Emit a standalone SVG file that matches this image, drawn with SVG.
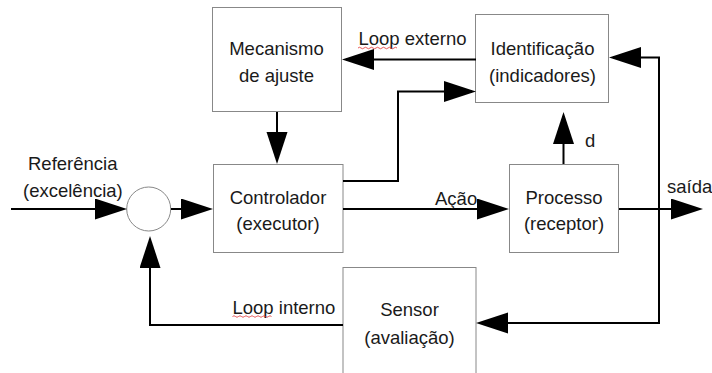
<svg xmlns="http://www.w3.org/2000/svg" width="712" height="373" viewBox="0 0 712 373">
<defs>
<style>
.box{fill:#fff;stroke:#888;stroke-width:1}
.t{font-family:"Liberation Sans",Arial,sans-serif;font-size:18.5px;fill:#1a1a1a}
.c{text-anchor:middle}
.ln{fill:none;stroke:#000;stroke-width:2}
.sq{fill:none;stroke:#e03030;stroke-width:0.8}
</style>
<marker id="ah" markerUnits="userSpaceOnUse" markerWidth="34" markerHeight="24" refX="28" refY="10.5" orient="auto" viewBox="0 0 34 24">
<path d="M0,0 L32,10.5 L0,21 z" fill="#000"/>
</marker>
</defs>
<rect width="712" height="373" fill="#fff"/>

<g id="mecanismo">
<rect class="box" x="212.5" y="7.5" width="129" height="104"/>
<text class="t c" x="276.5" y="55">Mecanismo</text>
<text class="t c" x="276.5" y="81.5">de ajuste</text>
</g>

<g id="identificacao">
<rect class="box" x="475.5" y="14.5" width="133" height="88"/>
<text class="t c" x="542.5" y="55">Identificação</text>
<text class="t c" x="542.5" y="81.5">(indicadores)</text>
</g>

<g id="somador">
<circle cx="148.7" cy="209" r="22" fill="#fff" stroke="#888" stroke-width="1"/>
</g>

<g id="controlador">
<rect class="box" x="213.5" y="164.5" width="129.5" height="88"/>
<text class="t c" x="278" y="204">Controlador</text>
<text class="t c" x="278" y="230">(executor)</text>
</g>

<g id="processo">
<rect class="box" x="509.5" y="164.5" width="109" height="88"/>
<text class="t c" x="564" y="204">Processo</text>
<text class="t c" x="564" y="230">(receptor)</text>
</g>

<g id="sensor">
<rect class="box" x="343" y="267.5" width="133" height="120"/>
<text class="t c" x="409.5" y="316">Sensor</text>
<text class="t c" x="409.5" y="344">(avaliação)</text>
</g>

<g id="connectors">
<path class="ln" d="M11,209 H123" marker-end="url(#ah)"/>
<path class="ln" d="M171,209 H209" marker-end="url(#ah)"/>
<path class="ln" d="M277,112 V160" marker-end="url(#ah)"/>
<path class="ln" d="M343,181 H398 V91.5 H472" marker-end="url(#ah)"/>
<path class="ln" d="M343,209 H505" marker-end="url(#ah)"/>
<path class="ln" d="M619,209 H699" marker-end="url(#ah)"/>
<path class="ln" d="M659,209 V57.5 H613" marker-end="url(#ah)"/>
<path class="ln" d="M659,209 V323 H480" marker-end="url(#ah)"/>
<path class="ln" d="M476,59.5 H346" marker-end="url(#ah)"/>
<path class="ln" d="M343,325 H150 V240" marker-end="url(#ah)"/>
<path class="ln" d="M563.5,164 V116" marker-end="url(#ah)"/>
<text class="t" x="28" y="170">Referência</text>
<text class="t" x="23" y="196.5">(excelência)</text>
<text class="t" x="358.5" y="45">Loop externo</text>
<text class="t" x="232.5" y="313.5">Loop interno</text>
<text class="t" x="435" y="205">Ação</text>
<text class="t" x="667" y="193">saída</text>
<text class="t" x="585" y="146.5">d</text>
<path class="sq" d="M358,48 q1.5,-1.5 3,0 t3,0 t3,0 t3,0 t3,0 t3,0 t3,0 t3,0 t3,0 t3,0 t3,0 t3,0 t3,0"/>
<path class="sq" d="M232.5,316.5 q1.5,-1.5 3,0 t3,0 t3,0 t3,0 t3,0 t3,0 t3,0 t3,0 t3,0 t3,0 t3,0 t3,0 t3,0"/>
</g>
</svg>
